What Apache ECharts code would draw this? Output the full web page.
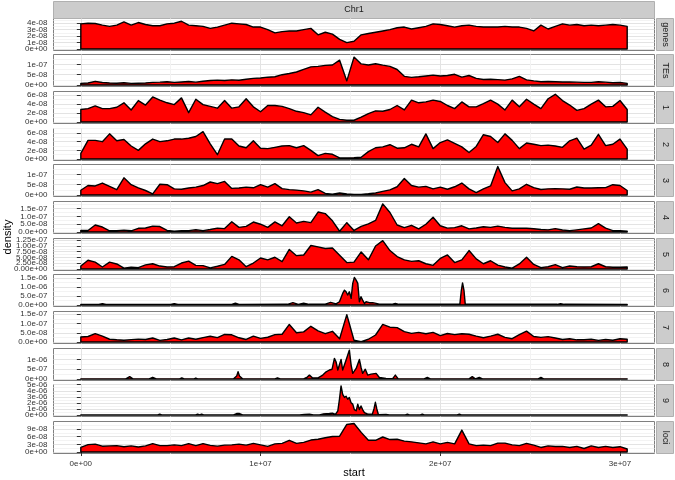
<!DOCTYPE html>
<html>
<head>
<meta charset="utf-8">
<title>Chr1 feature density</title>
<script src="https://cdn.jsdelivr.net/npm/echarts@6/dist/echarts.min.js"></script>
<style>
  html, body { margin: 0; padding: 0; background: #fff; }
  #chart { width: 675px; height: 480px; }
</style>
</head>
<body>
<div id="chart"></div>
<script>
// sample positions along Chr1, in Mb
const posMb = [0,0.4,0.8,1.2,1.6,2,2.4,2.8,3.2,3.6,4,4.4,4.8,5.2,5.6,6,6.4,6.8,7.2,7.6,
  8,8.4,8.8,9.2,9.6,10,10.4,10.8,11.2,11.6,12,12.4,12.8,13.2,13.6,14,14.4,14.8,15.2,15.6,
  16,16.4,16.8,17.2,17.6,18,18.4,18.8,19.2,19.6,20,20.4,20.8,21.2,21.6,22,22.4,22.8,23.2,23.6,
  24,24.4,24.8,25.2,25.6,26,26.4,26.8,27.2,27.6,28,28.4,28.8,29.2,29.6,30,30.4]

// densities, in units of 1e-8 unless noted
const genes = [3.9,4.0,3.95,3.7,3.5,3.7,4.2,3.7,4.1,3.8,3.6,3.6,3.9,4.0,4.3,3.7,3.6,3.5,3.2,3.4,
  3.7,4.0,3.9,3.8,3.4,3.4,3.0,2.5,2.7,2.8,2.8,3.0,3.2,2.2,2.6,2.3,1.5,1.0,1.2,2.2,
  2.4,2.6,2.8,3.0,3.3,3.4,3.1,3.3,3.5,3.9,3.8,3.6,3.4,3.6,3.7,3.5,3.4,3.4,3.4,3.5,
  3.4,3.4,3.2,2.8,3.7,3.1,3.5,3.9,3.7,3.8,3.6,3.7,3.6,3.7,3.8,3.7,3.5]
const tes = [0.8,1.0,1.8,1.2,1.0,0.9,1.1,0.8,0.9,1.0,1.3,1.4,1.6,1.3,1.5,1.7,1.4,1.8,2.2,2.4,
  2.2,2.5,2.3,2.8,3.2,3.4,3.8,4.0,5.0,5.6,6.3,7.6,8.8,9.0,9.5,9.7,12.0,2.0,13.5,10.2,
  9.7,10.3,9.6,9.0,7.5,4.2,3.7,4.0,4.4,4.8,4.4,4.6,5.2,3.8,4.6,3.2,2.7,2.8,2.6,2.4,
  3.0,4.2,2.5,2.0,1.6,1.7,1.6,1.5,1.5,1.4,1.3,1.3,1.6,1.4,1.1,1.2,0.8]
const fam1 = [2.8,3.0,3.6,3.0,3.0,3.3,4.3,2.7,4.8,3.8,5.6,4.9,4.3,3.9,5.4,2.1,5.1,3.9,3.5,3.1,
  4.8,3.1,3.4,5.2,3.4,2.3,3.7,3.7,3.5,3.0,2.4,2.1,1.6,3.3,2.2,1.2,0.6,0.4,0.4,1.1,
  1.9,2.5,2.4,2.8,3.7,2.7,4.9,4.3,4.5,4.9,4.6,3.7,3.0,4.5,3.4,3.4,4.1,4.9,4.0,2.7,
  4.9,3.4,5.1,4.0,3.0,5.2,6.2,4.8,3.8,2.6,3.0,4.0,4.9,3.4,3.5,4.8,2.8]
const fam2 = [1.3,4.3,4.3,4.0,5.8,4.2,4.5,3.0,2.0,3.5,4.6,4.0,4.2,4.6,4.6,4.8,5.2,6.3,3.5,1.0,
  4.6,4.6,3.0,2.6,4.2,2.5,2.4,2.7,3.0,3.1,2.6,3.1,2.0,0.8,1.3,1.1,0.25,0.25,0.3,0.4,
  1.7,2.6,2.8,3.3,2.5,2.6,3.4,2.8,5.8,2.4,3.8,4.4,3.6,2.8,1.5,2.9,5.6,5.2,3.8,5.8,
  4.3,2.4,3.7,3.4,3.1,3.2,3.0,2.7,4.2,4.8,2.3,3.2,5.7,3.1,3.4,4.6,2.3]
const fam3 = [2.3,4.6,4.4,5.8,4.2,2.6,8.3,5.0,3.5,2.2,0.6,5.2,5.0,3.0,2.8,3.4,3.8,4.6,6.3,5.5,
  6.6,3.2,3.4,3.8,3.5,5.0,3.8,5.5,3.1,2.6,2.4,2.0,1.4,2.6,0.8,0.4,1.0,0.5,0.3,0.3,
  0.6,1.0,1.8,2.5,4.0,8.0,4.6,3.8,4.2,3.0,3.8,2.8,4.0,5.8,3.0,1.2,3.0,4.4,13.8,6.0,
  2.0,3.0,5.2,3.6,2.7,3.0,3.1,3.0,2.8,3.9,3.4,3.4,3.5,3.6,5.0,4.6,2.2]
const fam4 = [1.1,1.0,4.5,3.2,0.8,0.9,1.2,0.8,2.4,2.6,3.8,3.5,1.0,0.5,0.8,0.9,1.5,0.9,1.6,2.5,
  2.2,6.6,3.0,3.6,6.4,5.0,3.0,6.5,4.0,9.8,5.8,6.8,6.0,12.8,11.8,7.2,0.5,6.0,1.0,3.6,
  5.2,7.4,18.0,12.5,4.5,2.8,4.3,2.0,5.0,9.5,4.0,2.5,2.8,4.0,2.0,2.6,3.4,3.0,3.8,3.0,
  2.4,2.5,2.4,2.1,1.6,1.4,2.2,1.3,0.9,1.4,2.0,2.6,5.4,2.5,0.9,0.8,0.5]
const fam5 = [1.3,3.8,3.0,0.9,3.0,2.2,0.4,0.8,0.6,1.8,2.3,1.3,0.9,1.0,2.6,3.4,1.6,1.5,0.5,1.2,
  2.0,5.5,4.0,1.0,2.6,4.8,4.0,5.1,3.2,8.5,5.8,6.1,10.2,9.6,8.9,9.1,6.0,2.8,3.0,7.4,
  4.0,10.0,12.3,8.0,5.4,4.0,3.3,3.6,2.3,1.6,4.6,6.1,2.8,4.0,8.0,4.4,2.3,3.6,1.7,0.9,
  0.4,2.2,5.1,2.0,0.6,1.0,1.9,0.6,1.3,1.0,0.9,1.0,2.3,1.0,0.8,0.8,0.9]
const fam7 = [2.7,3.0,4.5,3.2,1.5,1.2,1.0,1.3,1.6,1.4,2.2,0.9,1.4,2.2,1.2,2.2,1.5,2.4,3.1,2.4,
  4.1,3.9,2.3,1.4,3.2,2.0,2.6,4.0,4.2,9.5,5.0,5.5,8.5,6.0,4.5,5.8,1.8,14.8,1.0,0.2,
  1.5,3.8,9.5,8.0,7.8,5.6,4.7,5.2,4.5,5.2,3.5,4.6,4.0,4.5,4.2,3.2,2.3,3.2,4.2,2.5,
  1.8,4.0,5.9,3.0,2.5,2.9,2.2,1.4,1.8,1.2,1.2,1.5,0.9,1.4,1.0,1.8,1.5]
const loci = [1.8,2.9,3.1,2.3,2.4,2.5,2.1,2.4,2.0,2.4,3.3,2.5,2.5,2.8,2.5,3.3,2.5,3.3,2.6,2.3,
  2.7,2.8,3.1,2.7,3.4,2.8,2.2,3.2,3.4,4.6,3.4,3.8,4.7,5.0,5.6,6.1,6.2,10.8,11.2,7.7,
  4.6,4.6,5.9,4.9,5.0,4.3,4.0,3.6,3.2,4.0,3.2,3.8,3.2,8.6,3.2,2.5,2.7,2.5,3.5,3.5,
  2.8,2.5,3.4,2.7,1.8,2.4,2.2,2.2,1.8,2.2,1.4,2.4,1.8,2.2,1.8,2.1,1.2]

// spiky families get their own positions (Mb)
// family 6, units of 1e-7
const pos6 = [0,1.0,1.2,1.4,5.0,5.2,5.4,8.4,8.6,8.8,11.5,11.8,12.1,12.4,12.7,13.6,13.9,14.2,
  14.39,14.57,14.67,14.76,14.85,14.94,15.04,15.13,15.22,15.32,15.41,15.5,15.59,15.68,15.78,15.87,
  16.06,16.24,16.43,16.61,17.3,17.5,17.7,19.5,21.09,21.17,21.24,21.32,21.39,23.0,26.5,26.7,26.9,30.4]
const fam6 = [0.3,0.3,0.8,0.3,0.3,0.8,0.3,0.3,1.0,0.3,0.4,1.3,0.4,1.0,0.4,0.5,1.5,0.6,
  1.8,6.4,8.2,7.3,5.5,7.3,3.7,11.9,15.2,13.7,11.9,1.8,4.6,2.7,0.9,1.8,
  1.3,1.3,0.9,0.5,0.4,0.9,0.4,0.4,0.5,8.0,12.2,8.0,0.5,0.4,0.4,0.7,0.4,0.35]
// family 8, units of 1e-7
const pos8 = [0,2.5,2.72,2.9,3.8,4.0,4.2,5.5,5.62,5.75,6.3,6.4,6.5,8.5,8.67,8.75,8.83,9.0,
  10.8,10.94,11.1,12.4,12.6,12.72,12.9,13.2,13.46,13.65,13.83,13.98,14.11,14.2,14.3,14.48,14.57,
  14.76,14.94,15.04,15.13,15.32,15.5,15.59,15.68,15.83,15.96,16.15,16.43,16.61,16.98,17.35,17.5,
  17.65,19.1,19.28,19.45,21.6,21.78,21.95,22.17,22.35,25.45,25.6,25.75,30.4]
const fam8 = [0.1,0.1,1.2,0.1,0.1,0.9,0.1,0.1,0.6,0.1,0.1,0.5,0.1,0.1,1.5,3.7,1.5,0.1,
  0.1,0.6,0.1,0.1,1.0,2.0,0.5,0.6,2.0,3.7,4.6,5.0,10.5,8.8,4.6,10.0,4.6,
  9.7,14.7,7.1,2.9,5.4,10.0,6.0,2.9,5.0,2.0,2.5,2.9,0.8,0.3,0.2,2.0,
  0.2,0.1,0.8,0.1,0.1,1.2,0.1,0.8,0.1,0.1,0.8,0.1,0.1]
// family 9, units of 1e-6
const pos9 = [0,4.28,4.39,4.5,6.39,6.5,6.61,6.72,6.83,8.5,8.67,8.83,9.0,12.17,12.44,12.72,12.94,
  13.28,13.5,13.83,14.0,14.17,14.3,14.39,14.48,14.57,14.67,14.76,14.85,14.94,15.04,15.13,15.22,
  15.32,15.41,15.5,15.59,15.68,15.78,15.94,16.22,16.31,16.39,16.47,16.56,16.98,17.17,18.06,18.17,
  18.28,18.89,19.0,19.11,20.94,21.06,21.17,30.4]
const fam9 = [0.02,0.02,0.15,0.02,0.02,0.15,0.02,0.15,0.02,0.02,0.25,0.25,0.02,0.02,0.1,0.15,0.02,
  0.02,0.2,0.25,0.3,0.1,0.7,2.6,4.8,3.4,2.9,3.1,2.6,2.9,2.0,1.8,0.9,
  0.7,1.8,0.9,1.5,0.9,0.4,0.2,0.15,1.0,2.1,1.0,0.05,0.1,0.02,0.02,0.15,
  0.02,0.02,0.15,0.02,0.02,0.15,0.02,0.02]

const facetNames = ['genes', 'TEs', '1', '2', '3', '4', '5', '6', '7', '8', '9', 'loci']
const facetPos = [posMb, posMb, posMb, posMb, posMb, posMb, posMb, pos6, posMb, pos8, pos9, posMb]
const facetVals = [genes, tes, fam1, fam2, fam3, fam4, fam5, fam6, fam7, fam8, fam9, loci]
const facetUnit = [1e-8, 1e-8, 1e-8, 1e-8, 1e-8, 1e-8, 1e-8, 1e-7, 1e-8, 1e-7, 1e-6, 1e-8]
// top of the data range for each facet (same units)
const facetMax = [4.5, 14.05, 6.5, 6.7, 14.05, 18.6, 12.6, 16.0, 15.7, 14.8, 4.79, 11.4]

const yTickLabels = [
  ['0e+00', '1e-08', '2e-08', '3e-08', '4e-08'],
  ['0e+00', '5e-08', '1e-07'],
  ['0e+00', '2e-08', '4e-08', '6e-08'],
  ['0e+00', '2e-08', '4e-08', '6e-08'],
  ['0e+00', '5e-08', '1e-07'],
  ['0.0e+00', '5.0e-08', '1.0e-07', '1.5e-07'],
  ['0.00e+00', '2.50e-08', '5.00e-08', '7.50e-08', '1.00e-07', '1.25e-07'],
  ['0.0e+00', '5.0e-07', '1.0e-06', '1.5e-06'],
  ['0.0e+00', '5.0e-08', '1.0e-07', '1.5e-07'],
  ['0e+00', '5e-07', '1e-06'],
  ['0e+00', '1e-06', '2e-06', '3e-06', '4e-06', '5e-06'],
  ['0e+00', '3e-08', '6e-08', '9e-08']
]
const xTickLabels = ['0e+00', '1e+07', '2e+07', '3e+07']
const xMinorTicks = [5e6, 1.5e7, 2.5e7]

const FONT = '"Liberation Sans", Arial, Helvetica, sans-serif'
const LEFT = 53.5
const WIDTH = 601
const PANEL_H = 32
const panelTop = k => Math.floor(18 + k * 36.67) + 0.5

// ggplot-style 5% expansion of the x range
const xSpan = 30.4e6
const xMin = -0.05 * xSpan
const xMax = 1.05 * xSpan
const xTickValues = xTickLabels.map(Number)

function labelFor (labels) {
  const vals = labels.map(Number)
  return function (v) {
    let best = 0
    for (let i = 1; i < vals.length; i++) {
      if (Math.abs(vals[i] - v) < Math.abs(vals[best] - v)) best = i
    }
    return labels[best]
  }
}

const labelStyle = { fontSize: 8, color: '#333', margin: 6, fontFamily: FONT,
  showMinLabel: true, showMaxLabel: true, hideOverlap: false }

const grids = []
const xAxes = []
const yAxes = []
const series = []
const graphics = []

facetNames.forEach((name, k) => {
  const top = panelTop(k)
  const unit = facetUnit[k]
  const yMax = 1.05 * facetMax[k] * unit
  const yMin = -0.05 * facetMax[k] * unit
  const majors = yTickLabels[k].map(Number)
  const step = majors[1] - majors[0]
  const minors = majors.map(v => v + step / 2).filter(v => v < yMax)
  const isBottom = k === facetNames.length - 1

  grids.push({
    left: LEFT, top: top, width: WIDTH, height: PANEL_H,
    show: true, backgroundColor: '#fff', borderColor: '#7f7f7f', borderWidth: 1,
    containLabel: false, outerBoundsMode: 'none'
  })

  xAxes.push({
    gridIndex: k, type: 'value', min: xMin, max: xMax, position: 'bottom',
    axisLine: { show: false },
    axisTick: { show: isBottom, customValues: xTickValues, length: 4, lineStyle: { color: '#333', width: 1 } },
    axisLabel: Object.assign({ show: isBottom, customValues: xTickValues, formatter: labelFor(xTickLabels) }, labelStyle),
    splitLine: { show: true, lineStyle: { color: '#e3e3e3', width: 1 } }
  })
  xAxes.push({
    gridIndex: k, type: 'value', min: xMin, max: xMax, position: 'top',
    axisLine: { show: false },
    axisTick: { show: false, customValues: xMinorTicks },
    axisLabel: { show: false },
    splitLine: { show: true, lineStyle: { color: '#f3f3f3', width: 1 } }
  })

  // labels are split over two left axes so neighbouring ones are never dropped
  const evenVals = majors.filter((v, i) => i % 2 === 0)
  const oddVals = majors.filter((v, i) => i % 2 === 1)
  yAxes.push({
    gridIndex: k, type: 'value', min: yMin, max: yMax, position: 'left', offset: 0,
    axisLine: { show: false },
    axisTick: { show: true, customValues: majors, length: 4, lineStyle: { color: '#333', width: 1 } },
    axisLabel: Object.assign({ show: true, customValues: evenVals, formatter: labelFor(yTickLabels[k]) }, labelStyle),
    splitLine: { show: true, lineStyle: { color: '#e3e3e3', width: 1 } }
  })
  yAxes.push({
    gridIndex: k, type: 'value', min: yMin, max: yMax, position: 'right',
    axisLine: { show: false },
    axisTick: { show: false, customValues: minors },
    axisLabel: { show: false },
    splitLine: { show: true, lineStyle: { color: '#f3f3f3', width: 1 } }
  })
  yAxes.push({
    gridIndex: k, type: 'value', min: yMin, max: yMax, position: 'left', offset: 0,
    axisLine: { show: false },
    axisTick: { show: false, customValues: oddVals.length ? oddVals : [0] },
    axisLabel: Object.assign({ show: oddVals.length > 0, customValues: oddVals.length ? oddVals : [0],
      formatter: labelFor(yTickLabels[k]) }, labelStyle),
    splitLine: { show: false }
  })

  // closed density polygon: up the left edge, along the curve, down and back along 0
  const xs = facetPos[k]
  const vs = facetVals[k]
  const poly = [[xs[0] * 1e6, 0]]
  xs.forEach((x, i) => poly.push([x * 1e6, vs[i] * unit]))
  poly.push([xs[xs.length - 1] * 1e6, 0])

  series.push({
    name: name, type: 'custom', coordinateSystem: 'cartesian2d',
    xAxisIndex: 2 * k, yAxisIndex: 3 * k, silent: true,
    data: [poly[0]],
    renderItem: function (params, api) {
      return {
        type: 'polygon',
        shape: { points: poly.map(p => api.coord(p)) },
        style: { fill: '#ff0000', stroke: '#000', lineWidth: 1.4, lineJoin: 'round' }
      }
    }
  })

  // facet strip on the right
  graphics.push({
    type: 'rect', shape: { x: 656.5, y: top, width: 17, height: PANEL_H },
    style: { fill: '#cccccc', stroke: '#b0b0b0', lineWidth: 1 }, silent: true
  })
  graphics.push({
    type: 'text', x: 665, y: top + PANEL_H / 2, rotation: -Math.PI / 2,
    style: { text: name, fill: '#1a1a1a', font: '9px ' + FONT,
      align: 'center', verticalAlign: 'middle', textAlign: 'center', textVerticalAlign: 'middle' },
    silent: true
  })
})

// top strip and axis titles
graphics.push({
  type: 'rect', shape: { x: LEFT, y: 1.5, width: WIDTH, height: 17 },
  style: { fill: '#cccccc', stroke: '#b0b0b0', lineWidth: 1 }, silent: true
})
graphics.push({
  type: 'text', x: LEFT + WIDTH / 2, y: 10,
  style: { text: 'Chr1', fill: '#1a1a1a', font: '9px ' + FONT,
    align: 'center', verticalAlign: 'middle', textAlign: 'center', textVerticalAlign: 'middle' },
  silent: true
})
graphics.push({
  type: 'text', x: 354, y: 473,
  style: { text: 'start', fill: '#000', font: '11px ' + FONT,
    align: 'center', verticalAlign: 'middle', textAlign: 'center', textVerticalAlign: 'middle' },
  silent: true
})
graphics.push({
  type: 'text', x: 8, y: 237, rotation: Math.PI / 2,
  style: { text: 'density', fill: '#000', font: '11px ' + FONT,
    align: 'center', verticalAlign: 'middle', textAlign: 'center', textVerticalAlign: 'middle' },
  silent: true
})

const chart = echarts.init(document.getElementById('chart'), null, { renderer: 'canvas' })
chart.setOption({
  animation: false,
  backgroundColor: '#fff',
  grid: grids,
  xAxis: xAxes,
  yAxis: yAxes,
  series: series,
  graphic: graphics
})
</script>
</body>
</html>
